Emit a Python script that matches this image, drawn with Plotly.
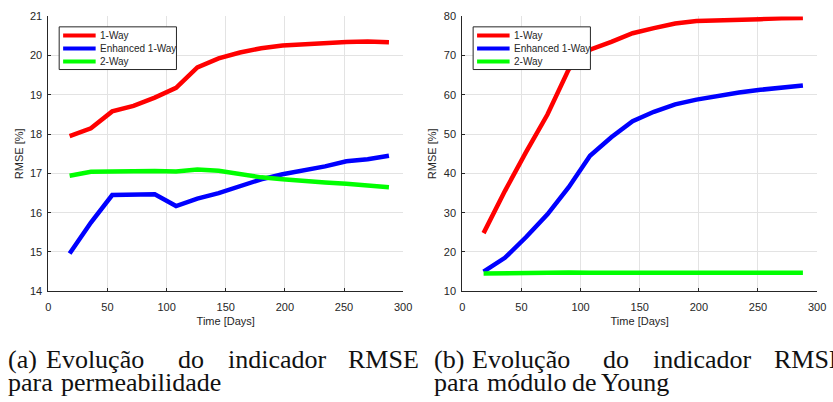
import plotly.graph_objects as go

# Sampling days (every 18 days)
days = [18, 36, 54, 72, 90, 108, 126, 144, 162, 180, 198, 216, 234, 252, 270, 288]

# (a) permeability RMSE [%]
perm_1way = [17.95, 18.15, 18.58, 18.72, 18.93, 19.18, 19.70, 19.93, 20.08, 20.19,
             20.26, 20.29, 20.33, 20.35, 20.36, 20.34]
perm_enh = [14.96, 15.75, 16.45, 16.45, 16.47, 16.17, 16.36, 16.50, 16.67, 16.85,
            16.98, 17.08, 17.18, 17.31, 17.36, 17.45]
perm_2way = [16.94, 17.04, 17.05, 17.06, 17.06, 17.05, 17.10, 17.07, 16.99, 16.90,
             16.85, 16.80, 16.77, 16.74, 16.69, 16.65]

# (b) Young's modulus RMSE [%]
young_1way = [24.8, 35.5, 45.5, 55.0, 66.5, 71.5, 73.5, 75.7, 77.0, 78.2,
              78.8, 78.9, 79.1, 79.3, 79.5, 79.6]
young_enh = [15.0, 18.5, 23.8, 29.6, 36.5, 44.5, 49.2, 53.3, 55.7, 57.6,
             58.8, 59.8, 60.6, 61.3, 61.8, 62.4]
young_2way = [14.5, 14.6, 14.8, 14.7, 14.8, 14.7, 14.7, 14.7, 14.7, 14.7,
              14.6, 14.7, 14.7, 14.7, 14.7, 14.7]

series_names = ["1-Way", "Enhanced 1-Way", "2-Way"]
colors = ["#ff0000", "#0000ff", "#00ff00"]

W, H = 833, 402
AX = "#262626"
GRID = "#e3e3e3"
FONT = "Liberation Sans, Arial, sans-serif"

# pixel geometry of the two axes boxes
panel_left = [46, 466]
panel_width = 360
plot_top, plot_bottom = 10.7, 294

fig = go.Figure()

panels = [
    ("x", "y", [perm_1way, perm_enh, perm_2way]),
    ("x2", "y2", [young_1way, young_enh, young_2way]),
]
for xa, ya, data in panels:
    for name, col, vals in zip(series_names, colors, data):
        fig.add_trace(go.Scatter(
            x=days, y=vals, mode="lines", name=name,
            line=dict(color=col, width=4.5),
            xaxis=xa, yaxis=ya, showlegend=False,
        ))

ydom = [1 - plot_bottom / H, 1 - plot_top / H]
axis_common = dict(
    showline=True, linecolor=AX, linewidth=1, mirror=False,
    showgrid=True, gridcolor=GRID, gridwidth=1, zeroline=False,
    ticks="inside", ticklen=3, tickcolor=AX,
    tickfont=dict(family=FONT, size=11, color=AX),
    title_font=dict(family=FONT, size=11, color=AX),
)
xaxis_common = dict(range=[0, 300], dtick=50, ticklabelstandoff=6,
                    title=dict(text="Time [Days]", standoff=4), **axis_common)
yaxis_common = dict(domain=ydom, ticklabelstandoff=3,
                    title=dict(text="RMSE [%]", standoff=4), **axis_common)

fig.update_layout(
    width=W, height=H,
    margin=dict(l=0, r=0, t=0, b=0),
    paper_bgcolor="white", plot_bgcolor="white",
    font=dict(family=FONT, color=AX),
    showlegend=False,
    xaxis=dict(domain=[panel_left[0] / W, (panel_left[0] + panel_width) / W],
               anchor="y", **xaxis_common),
    yaxis=dict(range=[14, 21], dtick=1, anchor="x", **yaxis_common),
    xaxis2=dict(domain=[panel_left[1] / W, (panel_left[1] + panel_width) / W],
                anchor="y2", **xaxis_common),
    yaxis2=dict(range=[10, 80], dtick=10, anchor="x2", **yaxis_common),
)

# Boxed legend in the upper-left corner of each panel
def px(x):
    return x / W


def py(y):
    return 1 - y / H


for x0 in panel_left:
    fig.add_shape(type="rect", xref="paper", yref="paper",
                  x0=px(x0 + 11), x1=px(x0 + 130), y0=py(21.5), y1=py(65.5),
                  line=dict(color=AX, width=1), fillcolor="white", layer="above")
    for i, (name, col) in enumerate(zip(series_names, colors)):
        ly = 30.3 + i * 13.5
        fig.add_shape(type="line", xref="paper", yref="paper",
                      x0=px(x0 + 15), x1=px(x0 + 48), y0=py(ly), y1=py(ly),
                      line=dict(color=col, width=4), layer="above")
        fig.add_annotation(text=name, x=px(x0 + 50), y=py(ly), xref="paper", yref="paper",
                           xanchor="left", yanchor="middle", showarrow=False,
                           font=dict(family=FONT, size=10, color=AX))

# Sub-figure captions, justified word by word
SERIF = "Liberation Serif, Times New Roman, serif"
cap_font = dict(family=SERIF, size=26, color="#111111")
captions = [
    [("(a)", 4), ("Evolução", 43), ("do", 177), ("indicador", 227), ("RMSE", 349)],
    [("para", 4), ("permeabilidade", 58)],
    [("(b)", 436), ("Evolução", 475), ("do", 608), ("indicador", 658), ("RMSE", 781)],
    [("para", 436), ("módulo", 490), ("de", 576), ("Young", 606)],
]
line_tops = [348, 372, 348, 372]
for words, top in zip(captions, line_tops):
    for w, xw in words:
        fig.add_annotation(text=w, x=px(xw), y=py(top), xref="paper", yref="paper",
                           xanchor="left", yanchor="top", showarrow=False,
                           font=cap_font, borderpad=0)

fig.write_html("out.html")
